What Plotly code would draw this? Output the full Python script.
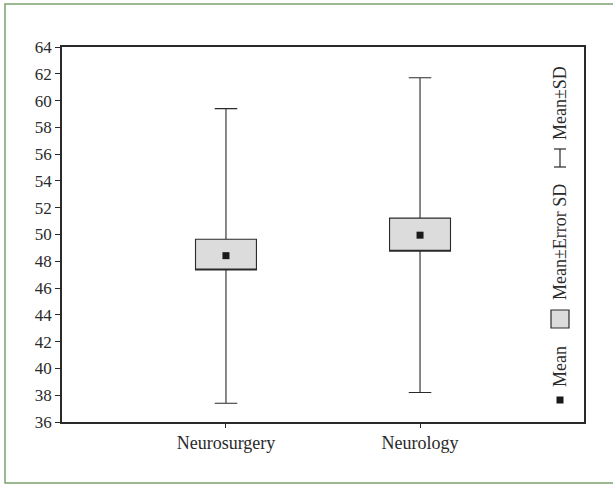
import plotly.graph_objects as go

categories = ["Neurosurgery", "Neurology"]
means = [48.42, 49.95]
box_low = [47.35, 48.75]    # Mean - Error SD
box_high = [49.65, 51.22]   # Mean + Error SD
sd_low = [37.4, 38.2]       # Mean - SD
sd_high = [59.4, 61.7]      # Mean + SD
y_ticks = list(range(36, 65, 2))

FONT = "Liberation Serif"
INK = "#2a2a2a"

W, H = 613, 486
L, R, T, B = 62, 29, 47, 64
PW, PH = W - L - R, H - T - B

def px(x):
    return (x - L) / PW

def py(y):
    return (H - B - y) / PH

fig = go.Figure()

fig.add_trace(go.Box(
    x=categories,
    q1=box_low,
    median=box_low,
    q3=box_high,
    lowerfence=sd_low,
    upperfence=sd_high,
    width=0.314,
    whiskerwidth=0.37,
    fillcolor="#dcdcdc",
    line=dict(color=INK, width=1.1),
    boxpoints=False,
    hoverinfo="skip",
    showlegend=False,
))

fig.add_trace(go.Scatter(
    x=categories,
    y=means,
    mode="markers",
    marker=dict(symbol="square", size=7, color="#1a1a1a"),
    showlegend=False,
    hoverinfo="skip",
))

shapes = []
# outer green frame (right edge runs off the page)
shapes.append(dict(type="rect", xref="paper", yref="paper",
                   x0=px(5), x1=px(625), y0=py(483), y1=py(4),
                   line=dict(color="#7ba36f", width=1.5), layer="below"))
# legend symbols
shapes.append(dict(type="rect", xref="paper", yref="paper",
                   x0=px(556.5), x1=px(563.5), y0=py(403.5), y1=py(396.5),
                   fillcolor="#1a1a1a", line=dict(width=0)))
shapes.append(dict(type="rect", xref="paper", yref="paper",
                   x0=px(551), x1=px(569), y0=py(328), y1=py(310),
                   fillcolor="#dcdcdc", line=dict(color=INK, width=1.2)))
shapes.append(dict(type="line", xref="paper", yref="paper",
                   x0=px(560), x1=px(560), y0=py(167), y1=py(149),
                   line=dict(color=INK, width=1.2)))
for yy in (149, 167):
    shapes.append(dict(type="line", xref="paper", yref="paper",
                       x0=px(554), x1=px(566), y0=py(yy), y1=py(yy),
                       line=dict(color=INK, width=1.2)))

annotations = []
for text, yc in (("Mean", 367), ("Mean±Error SD", 242), ("Mean±SD", 103)):
    annotations.append(dict(text=text, xref="paper", yref="paper",
                            x=px(560), y=py(yc), xanchor="center", yanchor="middle",
                            textangle=-90, showarrow=False,
                            font=dict(family=FONT, size=18, color=INK)))

fig.update_layout(
    width=W, height=H,
    margin=dict(l=L, r=R, t=T, b=B),
    paper_bgcolor="white",
    plot_bgcolor="white",
    shapes=shapes,
    annotations=annotations,
    xaxis=dict(
        type="category",
        range=[-0.845, 1.845],
        showline=True, mirror=True, linecolor=INK, linewidth=1.5,
        ticks="outside", ticklen=4, tickcolor=INK,
        showgrid=False, zeroline=False,
        tickfont=dict(family=FONT, size=18, color=INK),
    ),
    yaxis=dict(
        range=[36, 64],
        tickvals=y_ticks,
        showline=True, mirror=True, linecolor=INK, linewidth=1.5,
        ticks="outside", ticklen=5, tickcolor=INK,
        showgrid=False, zeroline=False,
        tickfont=dict(family=FONT, size=17, color=INK),
    ),
)

fig.write_html(
    "out.html",
    config={"displayModeBar": False},
    post_script="document.body.style.margin='0';document.body.style.overflow='hidden';",
)
